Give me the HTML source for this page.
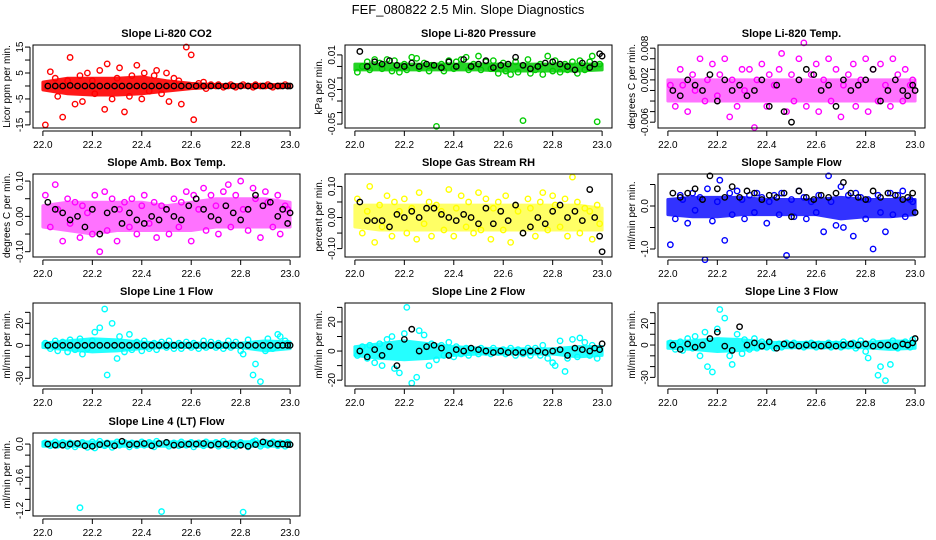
<!DOCTYPE html>
<html><head><meta charset="utf-8"><style>
body{margin:0;background:#fff}
svg{display:block;font-family:"Liberation Sans",sans-serif}
</style></head><body>
<svg id="chart" width="936" height="540" viewBox="0 0 936 540">
<rect width="936" height="540" fill="#fff"/>
<text x="468" y="14" text-anchor="middle" font-size="13">FEF_080822  2.5 Min. Slope Diagnostics</text>
</svg>
<script>
// shared time values (day of year)
const colorTimes = [22.01,22.03,22.05,22.06,22.08,22.10,22.11,22.13,22.15,22.16,22.18,22.20,22.21,22.23,22.25,22.26,22.28,22.30,22.31,22.33,22.35,22.36,22.38,22.40,22.41,22.43,22.45,22.46,22.48,22.50,22.51,22.53,22.55,22.56,22.58,22.60,22.61,22.63,22.65,22.66,22.68,22.70,22.71,22.73,22.75,22.76,22.78,22.80,22.81,22.83,22.85,22.86,22.88,22.90,22.91,22.93,22.95,22.96,22.98,22.99];
const blackTimes = [22.02,22.05,22.08,22.11,22.14,22.17,22.20,22.23,22.26,22.29,22.32,22.35,22.38,22.41,22.44,22.47,22.50,22.53,22.56,22.59,22.62,22.65,22.68,22.71,22.74,22.77,22.80,22.83,22.86,22.89,22.92,22.95,22.97,22.99,23.00];
const bandTimes = [22.0,22.1,22.2,22.3,22.4,22.5,22.6,22.7,22.8,22.9,23.0];
const xTicks = [22.0,22.2,22.4,22.6,22.8,23.0];
const xTickLabels = ["22.0","22.2","22.4","22.6","22.8","23.0"];

const co2Values = [-15,5.5,3,-4,-12,2,11,-7,4,-6,5,2,-3,6,-9,8.5,-5,3,7,-10,-4,4,8,-5,5,-2,4,6,-3,5,-6,3,2,-7,15,12,-13,1,1.5,-1,0.5,0,0.5,-0.5,0,0.5,-0.5,0,0.5,0,-0.5,0.5,0,0,0.5,-0.5,0,0,0.5,0];
const co2Black = [0,0,0,0.2,0,0,0,0,0,0,0,0,0,0,0,0,0,0,0,0,0,0,0,0,0,0,0,0,0,0,0,0,0,0,0];
const co2BandLo = [-1.5,-3,-3.5,-3.5,-3,-2,-1,-0.5,-0.5,-0.5,-0.5];
const co2BandHi = [1.5,3,3,3,3.5,2,1,0.5,0.5,0.5,0.5];

const pressValues = [-0.005,0.0,0.004,-0.003,0.006,0.003,-0.002,0.006,-0.004,0.005,-0.005,0.002,-0.003,0.008,0.007,-0.002,0.003,-0.004,0.001,-0.052,0.002,-0.004,0.005,-0.002,0.004,0.006,0.008,-0.003,0.002,0.009,-0.003,0.004,-0.002,0.005,-0.006,0.003,-0.004,-0.007,0.004,-0.005,-0.047,0.006,-0.006,-0.003,0.002,-0.007,0.009,-0.004,0.005,-0.005,0.002,-0.003,0.004,-0.006,0.005,-0.003,0.004,0.009,-0.048,0.002];
const pressBlack = [0.013,0.0,0.004,0.002,0.005,0.001,0.0,0.003,0.0,0.002,0.001,-0.001,0.004,0.0,0.006,0.0,0.002,0.005,-0.001,0.001,0.002,0.008,0.001,-0.002,0.0,0.003,0.004,0.002,0.0,-0.003,0.003,-0.001,0.002,0.011,0.009];
const pressBandLo = [-0.003,-0.003,-0.003,-0.003,-0.003,-0.003,-0.004,-0.004,-0.004,-0.004,-0.003];
const pressBandHi = [0.002,0.002,0.002,0.002,0.002,0.002,0.002,0.002,0.002,0.002,0.002];

const tempValues = [0.001,-0.003,0.004,0.001,-0.004,0.003,0.0,0.006,-0.002,0.002,0.005,-0.001,0.003,0.006,-0.005,0.002,-0.003,0.004,0.0,0.004,-0.007,0.002,0.005,-0.003,0.003,0.001,0.004,0.007,-0.004,0.003,-0.002,0.006,0.009,-0.003,0.003,0.005,-0.004,0.002,0.006,-0.002,0.004,-0.005,0.001,0.003,0.005,-0.003,0.002,0.006,-0.004,0.004,-0.002,0.005,0.001,-0.003,0.006,0.003,-0.002,0.004,0.001,0.002];
const tempBlack = [0.0,-0.001,0.002,0.001,0.0,0.003,-0.002,0.002,0.0,0.001,-0.001,0.0,0.002,-0.003,0.001,-0.004,-0.006,0.002,0.004,0.003,0.0,0.001,-0.003,0.002,0.0,0.001,0.002,0.004,-0.002,0.0,0.002,0.0,-0.001,0.001,0.0];
const tempBandLo = [-0.002,-0.002,-0.002,-0.002,-0.002,-0.002,-0.002,-0.002,-0.002,-0.002,-0.002];
const tempBandHi = [0.002,0.002,0.002,0.002,0.002,0.002,0.002,0.002,0.002,0.002,0.002];

const ambValues = [0.06,-0.03,0.09,0.02,-0.07,0.05,-0.02,0.04,-0.06,0.03,0.01,-0.05,0.06,-0.1,0.07,-0.04,0.05,-0.07,0.02,0.04,-0.03,0.05,-0.05,0.03,0.06,-0.02,0.04,-0.06,0.03,0.02,-0.05,0.05,-0.03,0.04,0.07,-0.07,0.06,0.02,0.08,-0.04,0.06,0.03,-0.05,0.07,0.09,-0.03,0.06,0.1,0.02,-0.04,0.08,0.05,-0.06,0.07,0.04,-0.03,0.06,-0.05,0.03,0.02];
const ambBlack = [0.04,0.02,0.01,-0.01,0.0,-0.03,0.02,-0.05,0.01,0.02,-0.02,0.01,-0.01,-0.02,0.0,-0.01,0.02,0.0,-0.01,0.03,0.05,0.02,0.0,-0.01,0.03,0.01,-0.01,0.02,0.06,0.03,0.04,0.0,0.02,-0.02,0.01];
const ambBandLo = [-0.03,-0.04,-0.05,-0.04,-0.04,-0.04,-0.04,-0.03,-0.03,-0.03,-0.03];
const ambBandHi = [0.03,0.04,0.04,0.04,0.04,0.03,0.04,0.05,0.05,0.05,0.04];

const rhValues = [0.06,-0.05,0.02,0.1,-0.08,0.04,-0.03,0.07,-0.06,0.05,0.02,0.06,-0.05,0.03,-0.07,0.08,-0.02,0.05,-0.06,0.04,0.02,-0.04,0.09,-0.06,0.03,0.07,-0.03,0.05,-0.05,0.08,-0.04,0.06,-0.07,0.03,0.05,-0.04,0.07,-0.08,0.04,0.02,-0.05,0.06,0.03,-0.06,0.05,0.08,-0.04,0.07,0.04,-0.03,0.06,-0.06,0.13,0.05,-0.05,0.03,0.02,-0.07,0.04,-0.02];
const rhBlack = [0.05,-0.01,-0.01,-0.01,-0.03,0.01,0.0,0.02,0.0,0.03,0.03,0.01,0.0,-0.01,0.01,0.0,-0.02,0.03,-0.02,0.02,-0.01,0.04,-0.05,-0.03,0.0,-0.02,0.02,0.04,0.0,0.02,-0.01,0.09,0.0,-0.06,-0.11];
const rhBandLo = [-0.03,-0.04,-0.04,-0.04,-0.04,-0.04,-0.04,-0.04,-0.04,-0.04,-0.04];
const rhBandHi = [0.04,0.04,0.04,0.04,0.04,0.04,0.04,0.04,0.04,0.04,0.03];

const flowValues = [-0.9,-0.3,0.25,0.15,-0.4,0.3,-0.1,0.2,-1.25,0.4,-0.35,0.1,0.6,-0.8,0.3,-0.2,0.35,0.15,-0.3,0.25,-0.15,0.3,0.2,-0.4,0.1,0.25,-0.2,0.3,-1.15,0.15,-0.25,0.35,0.2,-0.3,0.1,-0.15,0.25,-0.6,0.7,0.1,-0.45,0.45,-0.5,0.25,-0.7,0.3,0.2,-0.3,0.15,-1.0,0.25,-0.15,-0.6,0.3,-0.2,0.25,0.35,-0.25,0.15,0.1];
const flowBlack = [0.3,0.2,0.3,0.4,0.15,0.7,0.4,0.2,0.45,0.2,0.35,0.3,0.15,0.25,0.2,0.3,-0.25,0.35,0.2,0.15,0.25,0.2,0.3,0.55,0.3,0.2,0.15,0.35,0.2,0.3,0.25,0.15,0.2,0.3,-0.15];
const flowBandLo = [-0.2,-0.25,-0.25,-0.2,-0.2,-0.2,-0.2,-0.3,-0.25,-0.25,-0.2];
const flowBandHi = [0.15,0.2,0.2,0.2,0.15,0.15,0.15,0.2,0.15,0.15,0.15];

const line1Values = [2,-3,4,-5,3,-6,5,-4,6,-8,-3,4,12,16,33,-27,20,-12,8,-6,10,-4,3,-5,4,-3,2,-4,3,-2,4,-3,2,-3,3,-2,2,-3,4,-2,3,-2,2,-3,4,-2,3,-5,-8,5,-27,-17,-33,-5,6,-3,10,8,4,2];
const line1Black = [0,0,0,0,0,0,0,0,0,0,0,0,0,0,0,0,0,0,0,0,0,0,0,0,0,0,0,0,0,0,0,0,0,0,0];
const line1BandLo = [-2,-4,-6,-5,-3,-2,-2,-2,-2,-5,-3];
const line1BandHi = [2,4,6,5,3,2,2,2,2,4,3];

const line2Values = [-3,3,-5,4,-8,5,-10,8,10,-12,-15,12,30,-22,-18,14,11,-10,5,-6,4,-3,6,-4,3,-2,2,-3,1,-2,2,-1,-2,2,-1,1,-2,2,-3,1,-2,2,-3,2,-3,4,-5,-8,-10,7,-14,-5,8,-4,9,6,-3,4,-5,2];
const line2Black = [0,-4,1,-3,3,-10,8,15,0,3,4,2,-3,1,0,2,1,0,-1,0,-1,-1,-1,0,0,-1,0,1,-3,2,1,0,2,1,5];
const line2BandLo = [-3,-5,-6,-5,-3,-2,-2,-2,-2,-4,-3];
const line2BandHi = [3,5,7,5,3,2,1.5,1.5,1.5,3,3];

const line3Values = [2,-4,3,-5,6,-3,8,-10,12,-20,-25,15,33,25,-10,-18,10,-8,5,-4,6,-3,3,-2,2,-3,1,-2,2,-1,2,-1,-2,1,2,-2,1,-1,2,-2,1,-2,3,-1,2,-3,4,-6,-12,3,-28,-20,-33,-18,4,-3,2,3,-2,5];
const line3Black = [0,-4,1,-2,0,6,12,-1,-5,17,0,2,-1,3,-3,1,0,-1,0,0,-1,0,-1,0,1,0,1,-1,0,0,-1,1,0,2,6];
const line3BandLo = [-3,-4,-6,-5,-2.5,-2.5,-2.5,-2.5,-2.5,-4,-3];
const line3BandHi = [3,4,6,5,2.5,2.5,2.5,2.5,2.5,4,3];

const line4Values = [0.02,-0.03,0.04,-0.02,0.03,-0.04,0.02,-0.05,-1.15,0.03,-0.06,0.04,-0.07,0.05,-0.03,0.02,-0.06,0.04,-0.02,0.03,-0.05,0.02,-0.03,0.04,-0.02,0.03,-0.05,0.05,-1.22,0.03,-0.04,0.02,-0.03,0.04,-0.02,0.03,-0.05,0.02,-0.03,0.04,-0.02,0.03,-0.04,0.05,-0.03,0.02,-0.04,0.03,-1.23,-0.05,0.04,0.06,-0.04,0.03,-0.02,0.04,-0.03,0.02,-0.04,0.03];
const line4Black = [0,-0.02,-0.02,0,0.01,-0.03,-0.04,-0.01,0.01,-0.03,0.05,-0.01,0.0,0.01,-0.03,0.01,0.03,-0.02,-0.01,0.0,0.0,0.01,-0.02,0.0,0.0,-0.01,-0.02,-0.04,-0.01,0.04,0.01,0.0,0.0,-0.01,-0.01];
const line4BandLo = [-0.04,-0.04,-0.05,-0.04,-0.04,-0.04,-0.04,-0.04,-0.04,-0.04,-0.04];
const line4BandHi = [0.04,0.04,0.04,0.04,0.04,0.04,0.04,0.04,0.04,0.05,0.04];

const co2Ticks = [-15,-10,-5,0,5,10,15];
const co2TickLabels = ["-15","","-5","","5","","15"];
const pressTicks = [-0.05,-0.04,-0.03,-0.02,-0.01,0,0.01];
const pressTickLabels = ["-0.05","","","-0.02","","","0.01"];
const tempTicks = [-0.006,-0.004,-0.002,0,0.002,0.004,0.006,0.008];
const tempTickLabels = ["-0.006","","","","0.002","","","0.008"];
const ambTicks = [-0.1,-0.05,0,0.05,0.1];
const ambTickLabels = ["-0.10","","0.00","","0.10"];
const flowTicks = [-1,-0.5,0,0.5];
const flowTickLabels = ["-1.0","","0.0",""];
const line13Ticks = [-30,-20,-10,0,10,20,30];
const line13TickLabels = ["-30","","","0","","20",""];
const line2Ticks = [-20,-10,0,10,20,30];
const line2TickLabels = ["-20","","0","","20",""];
const line4Ticks = [-1.2,-1.0,-0.8,-0.6,-0.4,-0.2,0];
const line4TickLabels = ["-1.2","","","-0.6","","","0.0"];

const NS = "http://www.w3.org/2000/svg";
const svg = document.getElementById('chart');
const colX = [33, 345, 658];
const rowY = [45, 174, 303, 433];
const W = 267, H = 83;

function mk(tag, attrs, parent){
  const e = document.createElementNS(NS, tag);
  for (const k in attrs) e.setAttribute(k, attrs[k]);
  parent.appendChild(e);
  return e;
}

const panels = [
  {key:'co2', title:'Slope Li-820 CO2', ylab:'Licor ppm per min.', col:0,row:0, ymin:-16.2, ymax:15.8, color:'#ff0000', op:0.9, vals:co2Values, blk:co2Black, lo:co2BandLo, hi:co2BandHi, ticks:co2Ticks, labels:co2TickLabels},
  {key:'pressure', title:'Slope Li-820 Pressure', ylab:'kPa per min.', col:1,row:0, ymin:-0.0534, ymax:0.0186, color:'#00cc00', op:0.85, vals:pressValues, blk:pressBlack, lo:pressBandLo, hi:pressBandHi, ticks:pressTicks, labels:pressTickLabels},
  {key:'temp', title:'Slope Li-820 Temp.', ylab:'degrees C per min.', col:2,row:0, ymin:-0.0071, ymax:0.0086, color:'#ff00ff', op:0.55, vals:tempValues, blk:tempBlack, lo:tempBandLo, hi:tempBandHi, ticks:tempTicks, labels:tempTickLabels},
  {key:'amb', title:'Slope Amb. Box Temp.', ylab:'degrees C per min.', col:0,row:1, ymin:-0.115, ymax:0.12, color:'#ff00ff', op:0.55, vals:ambValues, blk:ambBlack, lo:ambBandLo, hi:ambBandHi, ticks:ambTicks, labels:ambTickLabels},
  {key:'rh', title:'Slope Gas Stream RH', ylab:'percent per min.', col:1,row:1, ymin:-0.127, ymax:0.14, color:'#ffff00', op:0.6, vals:rhValues, blk:rhBlack, lo:rhBandLo, hi:rhBandHi, ticks:ambTicks, labels:ambTickLabels},
  {key:'sample-flow', title:'Slope Sample Flow', ylab:'ml/min per min.', col:2,row:1, ymin:-1.186, ymax:0.744, color:'#0000ff', op:0.8, vals:flowValues, blk:flowBlack, lo:flowBandLo, hi:flowBandHi, ticks:flowTicks, labels:flowTickLabels},
  {key:'line1', title:'Slope Line 1 Flow', ylab:'ml/min per min.', col:0,row:2, ymin:-37, ymax:38.5, color:'#00ffff', op:0.85, vals:line1Values, blk:line1Black, lo:line1BandLo, hi:line1BandHi, ticks:line13Ticks, labels:line13TickLabels},
  {key:'line2', title:'Slope Line 2 Flow', ylab:'ml/min per min.', col:1,row:2, ymin:-24, ymax:33, color:'#00ffff', op:0.85, vals:line2Values, blk:line2Black, lo:line2BandLo, hi:line2BandHi, ticks:line2Ticks, labels:line2TickLabels},
  {key:'line3', title:'Slope Line 3 Flow', ylab:'ml/min per min.', col:2,row:2, ymin:-38, ymax:39, color:'#00ffff', op:0.85, vals:line3Values, blk:line3Black, lo:line3BandLo, hi:line3BandHi, ticks:line13Ticks, labels:line13TickLabels},
  {key:'line4', title:'Slope Line 4 (LT) Flow', ylab:'ml/min per min.', col:0,row:3, ymin:-1.3, ymax:0.2, color:'#00ffff', op:0.85, vals:line4Values, blk:line4Black, lo:line4BandLo, hi:line4BandHi, ticks:line4Ticks, labels:line4TickLabels}
];

panels.forEach(p => {
  const x0 = colX[p.col], y0 = rowY[p.row];
  const xs = v => x0 + (v - 21.96) / 1.08 * W;
  const ys = v => y0 + H - (v - p.ymin) / (p.ymax - p.ymin) * H;
  const g = mk('g', {}, svg);
  
  

  const t = mk('text', {x: x0 + W/2, y: y0 - 8, 'text-anchor':'middle', 'font-size':11, 'font-weight':'bold'}, g);
  
  
  t.textContent = p.title;

  const yl = mk('text', {transform:`translate(${x0-23},${y0+H/2}) rotate(-90)`, 'text-anchor':'middle', 'font-size':10}, g);
  
  
  yl.textContent = p.ylab;

  const marks = mk('g', {fill:'none', 'stroke-width':1.4}, g);
  
  
  let pts = bandTimes.map((tm,i)=>`${xs(tm)},${ys(p.hi[i])}`);
  pts = pts.concat(bandTimes.map((tm,i)=>`${xs(tm)},${ys(p.lo[i])}`).reverse());
  const band = mk('polygon', {points: pts.join(' '), fill:p.color, stroke:p.color, 'stroke-width':3, 'stroke-linejoin':'round', opacity:p.op}, marks);
  
  
  p.vals.forEach((v,i) => {
    const c = mk('circle', {cx: xs(colorTimes[i]), cy: ys(v), r: 2.7, stroke: p.color}, marks);
    
    
  });
  p.blk.forEach((v,i) => {
    const c = mk('circle', {cx: xs(blackTimes[i]), cy: ys(v), r: 2.7, stroke: '#000'}, marks);
    
    
  });

  const box = mk('rect', {x:x0, y:y0, width:W, height:H, fill:'none', stroke:'#000', 'stroke-width':1}, g);
  
  

  const xa = mk('g', {}, g);
  
  
  mk('line', {x1:xs(xTicks[0]), x2:xs(xTicks[xTicks.length-1]), y1:y0+H+3, y2:y0+H+3, stroke:'#000'}, xa);
  xTicks.forEach((v,i) => {
    mk('line', {x1:xs(v), x2:xs(v), y1:y0+H+3, y2:y0+H+8, stroke:'#000'}, xa);
    const l = mk('text', {x:xs(v), y:y0+H+20, 'text-anchor':'middle', 'font-size':10}, xa);
    
    
    l.textContent = xTickLabels[i];
  });
  const ya = mk('g', {}, g);
  
  
  const tv = p.ticks;
  mk('line', {x1:x0-3, x2:x0-3, y1:ys(tv[0]), y2:ys(tv[tv.length-1]), stroke:'#000'}, ya);
  tv.forEach((v,i) => {
    mk('line', {x1:x0-3, x2:x0-8, y1:ys(v), y2:ys(v), stroke:'#000'}, ya);
    if (p.labels[i]) {
      const l = mk('text', {transform:`translate(${x0-10},${ys(v)}) rotate(-90)`, 'text-anchor':'middle', 'font-size':10}, ya);
      
      
      l.textContent = p.labels[i];
    }
  });
});
</script>
</body></html>
